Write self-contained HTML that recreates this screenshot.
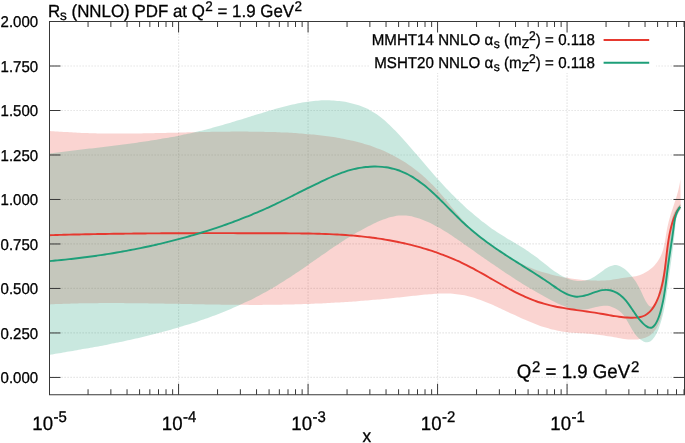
<!DOCTYPE html><html><head><meta charset="utf-8"><title>Rs PDF</title><style>
html,body{margin:0;padding:0;background:#fff}
#c{position:relative;width:685px;height:443px;overflow:hidden;background:#fff;font-family:"Liberation Sans",sans-serif;color:#000;will-change:transform}
.t{position:absolute;white-space:nowrap;line-height:1;text-rendering:geometricPrecision;-webkit-text-stroke:0.3px #000}
.sup,.sub{font-size:0.8em;position:relative;display:inline-block}
</style></head><body><div id="c">
<svg width="685" height="443" viewBox="0 0 685 443" style="position:absolute;left:0;top:0">
<rect width="685" height="443" fill="#fff"/>
<path d="M178.57 21.50 V394.75 M308.07 21.50 V394.75 M437.57 21.50 V394.75 M567.07 21.50 V394.75 M49.50 377.45 H684.50 M49.50 332.96 H684.50 M49.50 288.46 H684.50 M49.50 243.97 H684.50 M49.50 199.48 H684.50 M49.50 154.99 H684.50 M49.50 110.50 H684.50 M49.50 66.00 H684.50" stroke="#dddddd" stroke-width="1.2" stroke-dasharray="1.2 1.8" fill="none"/>
<path d="M49.50 130.90 C50.17 130.96 52.17 131.13 53.50 131.24 C54.83 131.35 56.16 131.45 57.50 131.55 C58.83 131.65 60.16 131.74 61.49 131.83 C62.83 131.93 64.16 132.01 65.49 132.10 C66.83 132.18 68.16 132.26 69.49 132.33 C70.82 132.41 72.16 132.48 73.49 132.54 C74.82 132.61 76.15 132.67 77.49 132.73 C78.82 132.79 80.15 132.85 81.48 132.90 C82.82 132.95 84.15 133.00 85.48 133.05 C86.82 133.10 88.15 133.14 89.48 133.18 C90.81 133.22 92.15 133.25 93.48 133.29 C94.81 133.32 96.14 133.35 97.48 133.38 C98.81 133.40 100.14 133.43 101.48 133.45 C102.81 133.47 104.14 133.49 105.47 133.50 C106.81 133.52 108.14 133.53 109.47 133.54 C110.80 133.56 112.14 133.56 113.47 133.57 C114.80 133.58 116.13 133.58 117.47 133.58 C118.80 133.58 120.13 133.58 121.47 133.58 C122.80 133.58 124.13 133.57 125.46 133.56 C126.80 133.56 128.13 133.55 129.46 133.54 C130.79 133.53 132.13 133.52 133.46 133.50 C134.79 133.49 136.13 133.47 137.46 133.46 C138.79 133.44 140.12 133.42 141.46 133.40 C142.79 133.38 144.12 133.36 145.45 133.34 C146.79 133.32 148.12 133.29 149.45 133.27 C150.79 133.24 152.12 133.22 153.45 133.19 C154.78 133.16 156.12 133.14 157.45 133.11 C158.78 133.08 160.12 133.05 161.45 133.02 C162.78 132.99 164.11 132.96 165.45 132.93 C166.78 132.90 168.11 132.87 169.44 132.83 C170.78 132.80 172.11 132.77 173.44 132.74 C174.78 132.71 176.11 132.67 177.44 132.64 C178.78 132.61 180.11 132.58 181.44 132.54 C182.77 132.51 184.11 132.48 185.44 132.44 C186.77 132.41 188.11 132.38 189.44 132.35 C190.77 132.32 192.10 132.29 193.44 132.25 C194.77 132.22 196.10 132.19 197.44 132.16 C198.77 132.13 200.10 132.10 201.44 132.07 C202.77 132.05 204.10 132.02 205.44 131.99 C206.77 131.96 208.10 131.94 209.43 131.91 C210.77 131.89 212.10 131.87 213.43 131.84 C214.77 131.82 216.10 131.80 217.43 131.78 C218.77 131.76 220.10 131.74 221.43 131.72 C222.77 131.71 224.10 131.69 225.43 131.68 C226.77 131.66 228.10 131.65 229.43 131.64 C230.77 131.63 232.10 131.62 233.43 131.61 C234.77 131.60 236.10 131.60 237.43 131.60 C238.77 131.59 240.10 131.59 241.43 131.59 C242.77 131.59 244.10 131.60 245.43 131.60 C246.77 131.61 248.10 131.62 249.43 131.63 C250.77 131.64 252.10 131.65 253.43 131.67 C254.77 131.68 256.10 131.70 257.43 131.72 C258.77 131.74 260.10 131.76 261.44 131.79 C262.77 131.82 264.10 131.85 265.44 131.88 C266.77 131.91 268.10 131.95 269.44 131.99 C270.77 132.02 272.11 132.07 273.44 132.11 C274.77 132.16 276.11 132.20 277.44 132.26 C278.77 132.31 280.11 132.36 281.44 132.42 C282.78 132.48 284.11 132.54 285.44 132.61 C286.78 132.68 288.11 132.75 289.45 132.82 C290.78 132.90 292.11 132.97 293.45 133.06 C294.78 133.14 296.12 133.22 297.45 133.31 C298.78 133.40 300.12 133.50 301.45 133.60 C302.79 133.70 304.12 133.80 305.45 133.91 C306.79 134.01 308.12 134.13 309.45 134.25 C310.79 134.36 312.12 134.49 313.45 134.62 C314.78 134.75 316.11 134.88 317.44 135.03 C318.77 135.17 320.10 135.32 321.43 135.47 C322.76 135.63 324.08 135.79 325.41 135.96 C326.73 136.13 328.05 136.31 329.37 136.50 C330.69 136.69 332.01 136.88 333.33 137.08 C334.64 137.29 335.96 137.50 337.27 137.72 C338.58 137.94 339.89 138.17 341.20 138.41 C342.51 138.65 343.81 138.90 345.11 139.17 C346.41 139.43 347.71 139.70 349.00 139.98 C350.30 140.26 351.59 140.55 352.88 140.86 C354.17 141.16 355.45 141.48 356.73 141.80 C358.01 142.13 359.29 142.47 360.56 142.82 C361.84 143.18 363.11 143.54 364.37 143.92 C365.63 144.29 366.90 144.68 368.15 145.09 C369.41 145.49 370.66 145.91 371.90 146.34 C373.15 146.77 374.39 147.22 375.63 147.68 C376.86 148.14 378.10 148.61 379.32 149.10 C380.55 149.59 381.77 150.10 382.98 150.62 C384.20 151.14 385.41 151.68 386.61 152.23 C387.81 152.78 389.01 153.35 390.20 153.94 C391.39 154.53 392.58 155.13 393.76 155.75 C394.94 156.37 396.11 157.01 397.27 157.66 C398.44 158.32 399.60 158.99 400.75 159.68 C401.90 160.37 403.04 161.08 404.18 161.80 C405.32 162.53 406.44 163.27 407.56 164.03 C408.68 164.78 409.79 165.55 410.90 166.34 C412.00 167.13 413.09 167.93 414.17 168.75 C415.26 169.56 416.33 170.39 417.39 171.24 C418.46 172.08 419.51 172.94 420.55 173.81 C421.59 174.68 422.62 175.56 423.64 176.46 C424.66 177.35 425.66 178.26 426.66 179.17 C427.65 180.09 428.63 181.02 429.60 181.96 C430.57 182.90 431.53 183.85 432.47 184.81 C433.41 185.77 434.34 186.74 435.25 187.71 C436.17 188.69 437.07 189.68 437.96 190.67 C438.85 191.66 439.72 192.66 440.59 193.67 C441.46 194.68 442.31 195.69 443.17 196.71 C444.02 197.72 444.86 198.74 445.70 199.76 C446.54 200.79 447.37 201.81 448.21 202.84 C449.04 203.86 449.87 204.89 450.70 205.92 C451.53 206.94 452.36 207.97 453.19 208.99 C454.03 210.02 454.86 211.04 455.70 212.06 C456.54 213.07 457.39 214.09 458.24 215.10 C459.10 216.10 459.95 217.11 460.83 218.10 C461.70 219.10 462.57 220.09 463.47 221.07 C464.36 222.05 465.26 223.02 466.18 223.98 C467.10 224.94 468.03 225.90 468.98 226.84 C469.92 227.78 470.88 228.71 471.85 229.63 C472.81 230.56 473.79 231.47 474.78 232.37 C475.77 233.27 476.78 234.16 477.79 235.04 C478.80 235.92 479.82 236.79 480.85 237.65 C481.88 238.51 482.92 239.36 483.97 240.20 C485.02 241.04 486.07 241.86 487.13 242.68 C488.20 243.49 489.27 244.30 490.34 245.09 C491.42 245.88 492.50 246.66 493.59 247.43 C494.68 248.20 495.78 248.95 496.87 249.70 C497.97 250.44 499.08 251.18 500.18 251.90 C501.29 252.62 502.40 253.33 503.52 254.02 C504.64 254.72 505.76 255.40 506.89 256.08 C508.02 256.75 509.16 257.41 510.30 258.05 C511.44 258.70 512.59 259.33 513.75 259.95 C514.91 260.57 516.07 261.17 517.24 261.77 C518.41 262.36 519.59 262.94 520.78 263.51 C521.97 264.07 523.16 264.62 524.37 265.16 C525.58 265.70 526.79 266.23 528.01 266.74 C529.24 267.25 530.47 267.75 531.71 268.23 C532.95 268.71 534.20 269.18 535.46 269.64 C536.72 270.09 537.98 270.53 539.25 270.96 C540.52 271.39 541.80 271.80 543.09 272.20 C544.37 272.60 545.66 272.98 546.96 273.36 C548.25 273.73 549.56 274.08 550.86 274.43 C552.17 274.77 553.48 275.10 554.80 275.42 C556.12 275.73 557.44 276.03 558.76 276.32 C560.09 276.61 561.41 276.88 562.75 277.14 C564.08 277.40 565.41 277.64 566.75 277.87 C568.09 278.11 569.43 278.32 570.77 278.52 C572.11 278.73 573.45 278.92 574.80 279.09 C576.14 279.27 577.49 279.43 578.83 279.57 C580.18 279.72 581.53 279.85 582.87 279.97 C584.22 280.09 585.57 280.19 586.91 280.28 C588.26 280.37 589.60 280.44 590.95 280.50 C592.29 280.56 593.63 280.60 594.97 280.62 C596.31 280.64 597.65 280.64 598.99 280.63 C600.32 280.61 601.65 280.57 602.98 280.51 C604.31 280.46 605.64 280.38 606.96 280.27 C608.29 280.17 609.60 280.04 610.92 279.89 C612.23 279.74 613.54 279.56 614.85 279.36 C616.15 279.17 617.45 278.95 618.74 278.75 C620.04 278.54 621.32 278.32 622.60 278.12 C623.89 277.92 625.16 277.74 626.43 277.57 C627.69 277.39 628.96 277.25 630.21 277.06 C631.46 276.88 632.70 276.71 633.94 276.48 C635.18 276.24 636.41 275.99 637.62 275.66 C638.84 275.33 640.05 274.96 641.25 274.49 C642.45 274.02 643.65 273.47 644.81 272.84 C645.98 272.22 647.14 271.51 648.25 270.74 C649.36 269.97 650.45 269.13 651.48 268.24 C652.51 267.35 653.52 266.39 654.45 265.39 C655.38 264.39 656.27 263.33 657.07 262.24 C657.88 261.15 658.62 260.02 659.29 258.85 C659.96 257.69 660.54 256.49 661.08 255.27 C661.61 254.05 662.07 252.79 662.49 251.52 C662.92 250.25 663.28 248.96 663.61 247.65 C663.95 246.35 664.24 245.02 664.51 243.69 C664.78 242.36 665.02 241.01 665.26 239.67 C665.49 238.32 665.70 236.97 665.92 235.62 C666.14 234.28 666.35 232.93 666.58 231.59 C666.81 230.26 667.05 228.92 667.31 227.61 C667.57 226.29 667.86 224.99 668.17 223.70 C668.48 222.41 668.81 221.14 669.16 219.87 C669.50 218.60 669.87 217.35 670.25 216.10 C670.62 214.85 671.01 213.60 671.41 212.37 C671.80 211.13 672.21 209.89 672.62 208.66 C673.02 207.43 673.44 206.20 673.84 204.97 C674.25 203.74 674.66 202.51 675.06 201.27 C675.46 200.04 675.85 198.80 676.23 197.56 C676.61 196.31 676.99 195.06 677.34 193.80 C677.69 192.54 678.03 191.28 678.35 190.00 C678.67 188.71 678.96 187.43 679.23 186.12 C679.50 184.81 679.77 183.33 679.97 182.16 C680.16 180.99 680.33 179.61 680.40 179.10 L680.70 209.00 C680.50 209.32 680.02 210.02 679.51 210.93 C679.00 211.85 678.20 213.28 677.63 214.47 C677.06 215.66 676.54 216.86 676.07 218.07 C675.60 219.28 675.17 220.50 674.79 221.73 C674.40 222.96 674.06 224.20 673.75 225.45 C673.44 226.70 673.16 227.95 672.92 229.22 C672.67 230.48 672.45 231.76 672.25 233.04 C672.06 234.32 671.89 235.60 671.73 236.90 C671.57 238.19 671.43 239.49 671.30 240.80 C671.17 242.10 671.05 243.41 670.93 244.73 C670.82 246.05 670.71 247.37 670.60 248.70 C670.48 250.02 670.37 251.35 670.25 252.69 C670.12 254.02 670.00 255.36 669.85 256.70 C669.71 258.04 669.55 259.39 669.38 260.73 C669.20 262.08 669.00 263.43 668.79 264.78 C668.59 266.13 668.36 267.48 668.13 268.83 C667.90 270.18 667.65 271.54 667.41 272.89 C667.16 274.24 666.91 275.59 666.66 276.95 C666.42 278.30 666.17 279.65 665.93 281.00 C665.70 282.35 665.46 283.70 665.25 285.05 C665.03 286.39 664.82 287.74 664.63 289.08 C664.44 290.42 664.26 291.76 664.10 293.09 C663.93 294.43 663.78 295.76 663.63 297.09 C663.49 298.42 663.35 299.74 663.22 301.06 C663.10 302.38 662.99 303.69 662.86 305.00 C662.73 306.30 662.62 307.60 662.47 308.90 C662.31 310.19 662.16 311.48 661.95 312.77 C661.74 314.05 661.50 315.32 661.21 316.59 C660.91 317.85 660.57 319.11 660.15 320.36 C659.73 321.61 659.25 322.86 658.68 324.09 C658.12 325.31 657.47 326.55 656.75 327.72 C656.02 328.88 655.22 330.04 654.36 331.08 C653.51 332.13 652.58 333.13 651.60 333.99 C650.62 334.85 649.59 335.61 648.51 336.25 C647.44 336.89 646.31 337.40 645.15 337.83 C644.00 338.27 642.79 338.58 641.58 338.84 C640.36 339.10 639.11 339.26 637.85 339.38 C636.59 339.50 635.31 339.54 634.02 339.56 C632.74 339.57 631.44 339.53 630.14 339.47 C628.84 339.40 627.53 339.29 626.21 339.16 C624.90 339.02 623.57 338.85 622.24 338.67 C620.92 338.49 619.58 338.27 618.24 338.05 C616.90 337.84 615.56 337.60 614.21 337.36 C612.86 337.12 611.51 336.87 610.15 336.62 C608.80 336.38 607.44 336.13 606.08 335.90 C604.72 335.67 603.35 335.44 601.99 335.23 C600.63 335.03 599.26 334.83 597.90 334.66 C596.53 334.49 595.17 334.35 593.80 334.21 C592.44 334.08 591.07 333.97 589.71 333.86 C588.35 333.75 586.99 333.66 585.63 333.57 C584.27 333.47 582.92 333.39 581.57 333.31 C580.22 333.22 578.87 333.14 577.52 333.05 C576.18 332.95 574.84 332.86 573.51 332.75 C572.17 332.65 570.84 332.54 569.52 332.40 C568.20 332.27 566.88 332.13 565.58 331.96 C564.27 331.79 562.97 331.60 561.67 331.39 C560.38 331.18 559.09 330.94 557.82 330.69 C556.54 330.43 555.26 330.15 554.00 329.85 C552.73 329.56 551.47 329.24 550.22 328.90 C548.96 328.56 547.72 328.20 546.47 327.83 C545.23 327.46 543.99 327.06 542.75 326.66 C541.52 326.25 540.28 325.83 539.06 325.39 C537.83 324.95 536.60 324.50 535.38 324.04 C534.16 323.57 532.94 323.09 531.72 322.61 C530.50 322.12 529.28 321.62 528.07 321.11 C526.85 320.60 525.64 320.07 524.43 319.55 C523.21 319.02 522.00 318.48 520.78 317.93 C519.57 317.39 518.36 316.84 517.14 316.28 C515.92 315.72 514.71 315.16 513.49 314.59 C512.27 314.02 511.05 313.45 509.83 312.88 C508.61 312.30 507.38 311.73 506.15 311.15 C504.93 310.57 503.69 309.99 502.46 309.41 C501.22 308.83 499.98 308.25 498.74 307.68 C497.50 307.11 496.25 306.53 495.00 305.97 C493.75 305.41 492.50 304.85 491.25 304.30 C489.99 303.76 488.73 303.22 487.47 302.69 C486.20 302.17 484.94 301.66 483.67 301.16 C482.40 300.67 481.13 300.19 479.86 299.73 C478.58 299.28 477.31 298.83 476.03 298.42 C474.75 298.00 473.46 297.60 472.18 297.24 C470.90 296.87 469.61 296.52 468.32 296.21 C467.03 295.89 465.74 295.61 464.44 295.35 C463.15 295.10 461.85 294.87 460.56 294.68 C459.26 294.48 457.96 294.31 456.65 294.17 C455.35 294.03 454.05 293.92 452.74 293.82 C451.44 293.73 450.13 293.67 448.82 293.62 C447.51 293.57 446.20 293.55 444.89 293.55 C443.57 293.54 442.26 293.55 440.95 293.58 C439.63 293.61 438.31 293.66 437.00 293.72 C435.68 293.78 434.36 293.86 433.04 293.95 C431.72 294.03 430.40 294.14 429.08 294.24 C427.76 294.35 426.44 294.47 425.11 294.60 C423.79 294.72 422.47 294.86 421.14 295.00 C419.82 295.13 418.49 295.28 417.17 295.42 C415.84 295.57 414.52 295.72 413.19 295.86 C411.86 296.01 410.54 296.16 409.21 296.31 C407.88 296.45 406.56 296.60 405.23 296.74 C403.90 296.88 402.58 297.03 401.25 297.17 C399.92 297.31 398.60 297.44 397.27 297.58 C395.94 297.72 394.61 297.85 393.28 297.99 C391.96 298.12 390.63 298.25 389.30 298.38 C387.97 298.51 386.64 298.64 385.32 298.77 C383.99 298.89 382.66 299.02 381.33 299.14 C380.00 299.26 378.67 299.38 377.34 299.50 C376.02 299.62 374.69 299.74 373.36 299.86 C372.03 299.97 370.70 300.09 369.37 300.20 C368.04 300.31 366.71 300.42 365.38 300.53 C364.05 300.64 362.72 300.75 361.39 300.85 C360.06 300.96 358.73 301.06 357.40 301.16 C356.07 301.26 354.74 301.36 353.41 301.46 C352.08 301.56 350.75 301.65 349.42 301.74 C348.09 301.84 346.76 301.93 345.43 302.02 C344.10 302.11 342.76 302.20 341.43 302.28 C340.10 302.37 338.77 302.45 337.44 302.53 C336.11 302.61 334.78 302.69 333.45 302.77 C332.11 302.85 330.78 302.92 329.45 303.00 C328.12 303.07 326.79 303.14 325.45 303.21 C324.12 303.28 322.79 303.34 321.46 303.41 C320.13 303.47 318.79 303.54 317.46 303.60 C316.13 303.66 314.80 303.72 313.46 303.77 C312.13 303.83 310.80 303.88 309.47 303.93 C308.13 303.98 306.80 304.03 305.47 304.08 C304.14 304.13 302.80 304.17 301.47 304.22 C300.14 304.26 298.80 304.30 297.47 304.34 C296.14 304.37 294.80 304.41 293.47 304.44 C292.14 304.48 290.81 304.51 289.47 304.54 C288.14 304.57 286.80 304.60 285.47 304.62 C284.14 304.65 282.80 304.67 281.47 304.69 C280.14 304.71 278.80 304.73 277.47 304.75 C276.14 304.77 274.80 304.78 273.47 304.80 C272.13 304.81 270.80 304.82 269.47 304.84 C268.13 304.85 266.80 304.86 265.46 304.86 C264.13 304.87 262.80 304.88 261.46 304.88 C260.13 304.88 258.79 304.89 257.46 304.89 C256.13 304.89 254.79 304.89 253.46 304.89 C252.12 304.89 250.79 304.88 249.45 304.88 C248.12 304.88 246.79 304.87 245.45 304.86 C244.12 304.86 242.78 304.85 241.45 304.84 C240.11 304.83 238.78 304.82 237.45 304.81 C236.11 304.80 234.78 304.79 233.44 304.78 C232.11 304.76 230.77 304.75 229.44 304.73 C228.10 304.72 226.77 304.70 225.43 304.69 C224.10 304.67 222.77 304.65 221.43 304.63 C220.10 304.62 218.76 304.60 217.43 304.58 C216.09 304.56 214.76 304.54 213.42 304.52 C212.09 304.50 210.75 304.47 209.42 304.45 C208.08 304.43 206.75 304.41 205.42 304.38 C204.08 304.36 202.75 304.34 201.41 304.31 C200.08 304.29 198.74 304.27 197.41 304.24 C196.07 304.22 194.74 304.19 193.40 304.17 C192.07 304.14 190.74 304.12 189.40 304.09 C188.07 304.07 186.73 304.04 185.40 304.02 C184.06 303.99 182.73 303.97 181.39 303.94 C180.06 303.92 178.73 303.89 177.39 303.87 C176.06 303.84 174.72 303.82 173.39 303.79 C172.05 303.77 170.72 303.74 169.39 303.72 C168.05 303.70 166.72 303.67 165.38 303.65 C164.05 303.63 162.72 303.60 161.38 303.58 C160.05 303.56 158.71 303.53 157.38 303.51 C156.05 303.49 154.71 303.47 153.38 303.45 C152.04 303.43 150.71 303.41 149.38 303.39 C148.04 303.37 146.71 303.35 145.38 303.33 C144.04 303.31 142.71 303.30 141.37 303.28 C140.04 303.26 138.71 303.25 137.37 303.23 C136.04 303.22 134.71 303.20 133.37 303.19 C132.04 303.18 130.71 303.17 129.38 303.16 C128.04 303.14 126.71 303.13 125.38 303.13 C124.04 303.12 122.71 303.11 121.38 303.10 C120.04 303.10 118.71 303.09 117.38 303.09 C116.05 303.08 114.71 303.08 113.38 303.08 C112.05 303.08 110.72 303.08 109.38 303.08 C108.05 303.08 106.72 303.09 105.39 303.09 C104.06 303.10 102.72 303.10 101.39 303.11 C100.06 303.12 98.73 303.13 97.40 303.14 C96.06 303.15 94.73 303.16 93.40 303.18 C92.07 303.19 90.74 303.21 89.41 303.23 C88.07 303.24 86.74 303.26 85.41 303.29 C84.08 303.31 82.75 303.33 81.42 303.36 C80.09 303.38 78.76 303.41 77.43 303.44 C76.10 303.47 74.77 303.50 73.44 303.54 C72.10 303.57 70.77 303.61 69.44 303.65 C68.11 303.68 66.78 303.72 65.45 303.77 C64.12 303.81 62.79 303.86 61.46 303.90 C60.13 303.95 58.80 304.00 57.48 304.05 C56.15 304.11 54.82 304.16 53.49 304.22 C52.16 304.28 50.16 304.37 49.50 304.40 Z" fill="#e6392f" fill-opacity="0.22"/>
<path d="M49.50 153.50 C50.17 153.41 52.19 153.15 53.54 152.98 C54.88 152.80 56.22 152.63 57.57 152.47 C58.91 152.30 60.25 152.13 61.59 151.96 C62.93 151.80 64.27 151.63 65.61 151.47 C66.95 151.31 68.28 151.14 69.62 150.98 C70.96 150.82 72.29 150.66 73.63 150.50 C74.96 150.34 76.29 150.18 77.63 150.03 C78.96 149.87 80.29 149.71 81.62 149.55 C82.95 149.40 84.28 149.24 85.61 149.08 C86.94 148.93 88.27 148.77 89.60 148.62 C90.93 148.46 92.25 148.30 93.58 148.15 C94.91 147.99 96.23 147.83 97.55 147.68 C98.88 147.52 100.20 147.36 101.52 147.21 C102.85 147.05 104.17 146.89 105.49 146.73 C106.81 146.57 108.13 146.41 109.45 146.25 C110.77 146.09 112.09 145.93 113.41 145.76 C114.73 145.60 116.04 145.43 117.36 145.27 C118.68 145.10 119.99 144.93 121.31 144.77 C122.62 144.60 123.94 144.43 125.25 144.25 C126.57 144.08 127.88 143.91 129.19 143.73 C130.50 143.55 131.82 143.38 133.13 143.20 C134.44 143.02 135.75 142.83 137.06 142.65 C138.37 142.46 139.68 142.28 140.99 142.09 C142.29 141.90 143.60 141.70 144.91 141.51 C146.22 141.31 147.52 141.11 148.83 140.91 C150.14 140.71 151.44 140.51 152.75 140.30 C154.05 140.09 155.36 139.88 156.66 139.67 C157.97 139.45 159.27 139.23 160.57 139.01 C161.87 138.79 163.18 138.57 164.48 138.34 C165.78 138.11 167.08 137.88 168.38 137.64 C169.68 137.40 170.98 137.16 172.28 136.92 C173.58 136.67 174.88 136.43 176.18 136.17 C177.48 135.92 178.78 135.66 180.08 135.40 C181.38 135.14 182.67 134.87 183.97 134.60 C185.27 134.33 186.57 134.05 187.86 133.77 C189.16 133.49 190.45 133.20 191.75 132.91 C193.05 132.62 194.34 132.32 195.64 132.02 C196.93 131.71 198.23 131.41 199.52 131.09 C200.81 130.78 202.11 130.46 203.40 130.14 C204.70 129.81 205.99 129.48 207.28 129.15 C208.57 128.81 209.87 128.47 211.16 128.13 C212.45 127.79 213.74 127.44 215.04 127.08 C216.33 126.73 217.62 126.37 218.91 126.01 C220.20 125.65 221.49 125.28 222.78 124.92 C224.07 124.55 225.36 124.17 226.65 123.80 C227.94 123.42 229.23 123.04 230.52 122.66 C231.81 122.28 233.10 121.90 234.39 121.51 C235.68 121.12 236.97 120.73 238.26 120.34 C239.55 119.95 240.84 119.55 242.13 119.16 C243.42 118.76 244.70 118.36 245.99 117.96 C247.28 117.57 248.57 117.16 249.86 116.76 C251.15 116.36 252.43 115.96 253.72 115.55 C255.01 115.15 256.30 114.74 257.59 114.34 C258.87 113.94 260.16 113.54 261.45 113.14 C262.74 112.74 264.03 112.34 265.31 111.95 C266.60 111.55 267.89 111.16 269.18 110.77 C270.47 110.39 271.76 110.01 273.04 109.63 C274.33 109.25 275.62 108.88 276.91 108.52 C278.20 108.16 279.49 107.80 280.78 107.45 C282.07 107.10 283.36 106.76 284.65 106.43 C285.94 106.10 287.23 105.77 288.53 105.46 C289.82 105.15 291.11 104.85 292.40 104.56 C293.70 104.27 294.99 103.99 296.28 103.72 C297.58 103.45 298.87 103.20 300.17 102.96 C301.46 102.72 302.76 102.49 304.06 102.28 C305.35 102.07 306.65 101.87 307.95 101.69 C309.25 101.51 310.54 101.35 311.84 101.20 C313.14 101.05 314.44 100.92 315.75 100.81 C317.05 100.70 318.35 100.61 319.65 100.53 C320.96 100.46 322.26 100.40 323.57 100.37 C324.87 100.34 326.18 100.33 327.49 100.34 C328.79 100.35 330.10 100.38 331.41 100.43 C332.72 100.49 334.03 100.56 335.35 100.67 C336.66 100.77 337.97 100.89 339.29 101.05 C340.60 101.20 341.92 101.37 343.23 101.58 C344.54 101.78 345.85 102.01 347.16 102.27 C348.47 102.53 349.77 102.81 351.07 103.13 C352.37 103.44 353.66 103.78 354.95 104.16 C356.23 104.53 357.51 104.93 358.77 105.37 C360.04 105.80 361.29 106.27 362.54 106.77 C363.78 107.26 365.01 107.79 366.23 108.36 C367.44 108.92 368.64 109.52 369.83 110.15 C371.01 110.78 372.18 111.45 373.33 112.15 C374.48 112.86 375.61 113.60 376.73 114.36 C377.84 115.13 378.94 115.93 380.02 116.75 C381.10 117.58 382.17 118.43 383.22 119.30 C384.27 120.17 385.30 121.07 386.33 121.98 C387.35 122.89 388.36 123.83 389.35 124.77 C390.35 125.71 391.33 126.67 392.30 127.64 C393.27 128.60 394.23 129.58 395.18 130.56 C396.13 131.54 397.06 132.53 397.99 133.52 C398.92 134.50 399.84 135.49 400.75 136.48 C401.66 137.47 402.57 138.46 403.46 139.45 C404.36 140.44 405.24 141.44 406.13 142.43 C407.01 143.42 407.88 144.42 408.75 145.41 C409.62 146.40 410.49 147.40 411.35 148.39 C412.21 149.39 413.07 150.38 413.92 151.38 C414.78 152.37 415.63 153.37 416.48 154.37 C417.33 155.36 418.17 156.36 419.02 157.35 C419.87 158.35 420.71 159.34 421.56 160.34 C422.40 161.33 423.25 162.32 424.10 163.32 C424.94 164.31 425.79 165.30 426.64 166.30 C427.50 167.29 428.35 168.28 429.20 169.27 C430.06 170.26 430.92 171.25 431.78 172.24 C432.64 173.23 433.50 174.21 434.37 175.20 C435.24 176.19 436.11 177.17 436.99 178.15 C437.86 179.13 438.74 180.12 439.63 181.09 C440.51 182.07 441.40 183.05 442.30 184.03 C443.20 185.00 444.10 185.98 445.01 186.95 C445.92 187.92 446.83 188.89 447.75 189.85 C448.68 190.82 449.60 191.78 450.54 192.74 C451.48 193.71 452.42 194.66 453.37 195.62 C454.33 196.58 455.29 197.53 456.25 198.48 C457.22 199.43 458.19 200.37 459.18 201.31 C460.16 202.25 461.14 203.19 462.14 204.12 C463.13 205.05 464.14 205.97 465.14 206.89 C466.15 207.81 467.16 208.72 468.18 209.63 C469.20 210.53 470.23 211.43 471.26 212.33 C472.29 213.22 473.32 214.10 474.36 214.98 C475.41 215.85 476.45 216.72 477.50 217.58 C478.55 218.44 479.61 219.29 480.66 220.13 C481.72 220.97 482.79 221.80 483.85 222.62 C484.92 223.44 485.99 224.25 487.06 225.05 C488.14 225.85 489.22 226.64 490.29 227.41 C491.37 228.19 492.46 228.95 493.54 229.70 C494.63 230.45 495.72 231.19 496.81 231.92 C497.90 232.64 498.99 233.35 500.08 234.05 C501.18 234.75 502.27 235.44 503.37 236.12 C504.47 236.80 505.57 237.46 506.67 238.13 C507.77 238.80 508.87 239.46 509.97 240.11 C511.07 240.77 512.17 241.43 513.27 242.08 C514.38 242.74 515.48 243.40 516.58 244.06 C517.68 244.72 518.78 245.39 519.88 246.06 C520.99 246.74 522.09 247.42 523.19 248.11 C524.28 248.80 525.38 249.50 526.48 250.22 C527.58 250.93 528.67 251.66 529.77 252.41 C530.86 253.16 531.95 253.92 533.04 254.70 C534.13 255.49 535.22 256.29 536.30 257.11 C537.39 257.94 538.47 258.79 539.56 259.64 C540.64 260.49 541.72 261.37 542.81 262.24 C543.89 263.11 544.98 263.99 546.07 264.85 C547.16 265.72 548.25 266.59 549.35 267.43 C550.45 268.28 551.55 269.12 552.66 269.94 C553.77 270.75 554.89 271.55 556.02 272.31 C557.15 273.06 558.28 273.80 559.43 274.49 C560.58 275.18 561.73 275.84 562.90 276.45 C564.07 277.05 565.26 277.62 566.45 278.12 C567.65 278.62 568.86 279.08 570.09 279.46 C571.31 279.85 572.55 280.17 573.80 280.42 C575.04 280.67 576.30 280.85 577.56 280.95 C578.81 281.04 580.08 281.07 581.34 280.99 C582.60 280.92 583.86 280.77 585.11 280.51 C586.37 280.25 587.62 279.90 588.86 279.44 C590.10 278.98 591.33 278.40 592.54 277.74 C593.76 277.08 594.97 276.29 596.16 275.50 C597.36 274.70 598.54 273.81 599.72 272.96 C600.90 272.11 602.08 271.22 603.24 270.40 C604.41 269.59 605.57 268.77 606.73 268.08 C607.89 267.40 609.04 266.75 610.20 266.27 C611.35 265.80 612.51 265.41 613.66 265.24 C614.82 265.07 615.98 265.05 617.14 265.25 C618.29 265.44 619.46 265.87 620.60 266.42 C621.75 266.96 622.89 267.71 623.99 268.52 C625.10 269.33 626.19 270.29 627.22 271.27 C628.25 272.25 629.26 273.34 630.20 274.40 C631.14 275.46 632.03 276.56 632.86 277.63 C633.68 278.70 634.44 279.74 635.16 280.80 C635.88 281.86 636.54 282.90 637.19 283.99 C637.84 285.07 638.44 286.15 639.05 287.29 C639.65 288.42 640.23 289.58 640.82 290.80 C641.41 292.03 641.99 293.32 642.60 294.63 C643.21 295.95 643.83 297.36 644.49 298.68 C645.15 299.99 645.83 301.36 646.58 302.52 C647.32 303.69 648.10 304.93 648.96 305.65 C649.82 306.37 650.82 306.91 651.73 306.86 C652.64 306.81 653.69 306.17 654.45 305.36 C655.21 304.54 655.78 303.23 656.30 301.97 C656.83 300.72 657.20 299.18 657.59 297.81 C657.98 296.45 658.32 295.09 658.66 293.78 C659.00 292.46 659.31 291.21 659.61 289.94 C659.92 288.67 660.21 287.43 660.49 286.16 C660.78 284.89 661.06 283.61 661.34 282.32 C661.61 281.03 661.88 279.73 662.14 278.43 C662.40 277.12 662.66 275.81 662.91 274.49 C663.17 273.17 663.41 271.84 663.66 270.51 C663.90 269.18 664.14 267.84 664.37 266.50 C664.61 265.16 664.84 263.82 665.06 262.47 C665.29 261.12 665.51 259.77 665.73 258.42 C665.95 257.08 666.17 255.72 666.38 254.38 C666.60 253.03 666.81 251.68 667.02 250.33 C667.22 248.99 667.43 247.64 667.63 246.30 C667.84 244.96 668.04 243.62 668.24 242.29 C668.44 240.96 668.64 239.63 668.84 238.31 C669.04 236.99 669.23 235.68 669.43 234.37 C669.63 233.07 669.82 231.77 670.02 230.48 C670.22 229.20 670.41 227.92 670.61 226.65 C670.81 225.38 670.99 224.13 671.22 222.88 C671.45 221.64 671.68 220.41 671.98 219.19 C672.28 217.97 672.60 216.77 673.02 215.58 C673.43 214.39 673.89 213.21 674.47 212.06 C675.04 210.90 675.69 209.76 676.47 208.64 C677.25 207.52 678.49 206.11 679.16 205.33 C679.83 204.56 680.28 204.22 680.50 204.00 L680.70 209.00 C680.48 209.31 679.93 209.92 679.40 210.83 C678.87 211.75 678.03 213.26 677.53 214.48 C677.03 215.71 676.69 216.95 676.39 218.20 C676.09 219.45 675.91 220.71 675.74 221.98 C675.57 223.24 675.48 224.52 675.35 225.81 C675.23 227.09 675.13 228.38 675.01 229.68 C674.88 230.98 674.75 232.29 674.62 233.60 C674.48 234.91 674.34 236.23 674.20 237.55 C674.05 238.87 673.90 240.20 673.74 241.53 C673.59 242.86 673.42 244.20 673.26 245.54 C673.09 246.87 672.92 248.22 672.75 249.56 C672.58 250.90 672.40 252.25 672.23 253.59 C672.05 254.94 671.87 256.29 671.68 257.63 C671.50 258.98 671.32 260.33 671.13 261.67 C670.95 263.02 670.76 264.36 670.57 265.70 C670.38 267.05 670.19 268.39 670.01 269.73 C669.82 271.06 669.63 272.40 669.44 273.73 C669.26 275.06 669.07 276.39 668.89 277.71 C668.70 279.03 668.52 280.35 668.34 281.66 C668.16 282.97 667.98 284.27 667.80 285.57 C667.63 286.87 667.45 288.16 667.28 289.45 C667.10 290.74 666.93 292.02 666.75 293.31 C666.57 294.59 666.38 295.87 666.19 297.15 C666.00 298.43 665.80 299.71 665.59 300.99 C665.38 302.28 665.17 303.56 664.93 304.86 C664.70 306.15 664.45 307.44 664.19 308.74 C663.92 310.05 663.65 311.36 663.35 312.67 C663.04 313.99 662.73 315.32 662.38 316.66 C662.04 318.00 661.68 319.35 661.29 320.71 C660.89 322.07 660.48 323.46 660.03 324.82 C659.58 326.19 659.10 327.56 658.58 328.88 C658.06 330.20 657.51 331.51 656.91 332.73 C656.30 333.96 655.66 335.15 654.97 336.24 C654.27 337.32 653.53 338.37 652.72 339.24 C651.92 340.10 651.06 340.91 650.14 341.43 C649.22 341.94 648.22 342.28 647.19 342.33 C646.15 342.38 645.02 342.12 643.94 341.71 C642.86 341.29 641.75 340.61 640.69 339.83 C639.64 339.05 638.59 338.06 637.60 337.04 C636.62 336.01 635.66 334.83 634.79 333.66 C633.91 332.49 633.11 331.25 632.34 330.03 C631.58 328.81 630.91 327.56 630.22 326.34 C629.54 325.11 628.91 323.88 628.25 322.68 C627.58 321.48 626.94 320.29 626.24 319.15 C625.53 318.01 624.82 316.89 624.02 315.83 C623.22 314.78 622.37 313.77 621.42 312.84 C620.48 311.90 619.45 311.02 618.37 310.24 C617.29 309.46 616.13 308.75 614.96 308.15 C613.78 307.55 612.54 307.03 611.30 306.64 C610.05 306.26 608.77 305.97 607.50 305.82 C606.23 305.67 604.95 305.66 603.67 305.72 C602.39 305.79 601.11 305.98 599.83 306.19 C598.54 306.41 597.25 306.72 595.97 307.02 C594.68 307.32 593.39 307.68 592.10 307.99 C590.81 308.31 589.52 308.65 588.23 308.91 C586.94 309.17 585.64 309.42 584.36 309.56 C583.07 309.71 581.78 309.78 580.49 309.78 C579.20 309.77 577.92 309.68 576.63 309.53 C575.35 309.39 574.07 309.16 572.79 308.89 C571.51 308.62 570.23 308.28 568.96 307.90 C567.69 307.52 566.42 307.09 565.16 306.62 C563.90 306.16 562.64 305.65 561.39 305.11 C560.13 304.58 558.88 304.00 557.64 303.42 C556.40 302.83 555.16 302.22 553.93 301.60 C552.70 300.98 551.48 300.34 550.27 299.71 C549.05 299.07 547.84 298.43 546.64 297.78 C545.44 297.14 544.24 296.49 543.06 295.84 C541.87 295.18 540.69 294.52 539.51 293.86 C538.33 293.20 537.16 292.53 536.00 291.86 C534.84 291.19 533.68 290.52 532.52 289.84 C531.37 289.16 530.22 288.48 529.08 287.80 C527.94 287.11 526.80 286.42 525.66 285.73 C524.53 285.04 523.40 284.34 522.28 283.64 C521.15 282.94 520.03 282.24 518.91 281.53 C517.79 280.83 516.68 280.12 515.57 279.40 C514.46 278.69 513.35 277.98 512.25 277.26 C511.14 276.54 510.04 275.82 508.94 275.09 C507.84 274.37 506.75 273.64 505.65 272.91 C504.56 272.18 503.46 271.45 502.37 270.71 C501.28 269.98 500.19 269.24 499.11 268.50 C498.02 267.76 496.93 267.02 495.85 266.27 C494.76 265.53 493.68 264.78 492.59 264.03 C491.51 263.28 490.42 262.53 489.34 261.78 C488.26 261.02 487.17 260.27 486.09 259.51 C485.01 258.75 483.92 257.99 482.84 257.23 C481.75 256.47 480.67 255.71 479.58 254.95 C478.49 254.18 477.41 253.41 476.32 252.65 C475.23 251.88 474.14 251.11 473.05 250.34 C471.95 249.57 470.86 248.80 469.76 248.03 C468.67 247.25 467.57 246.48 466.47 245.70 C465.37 244.93 464.26 244.15 463.16 243.38 C462.05 242.60 460.94 241.82 459.83 241.05 C458.71 240.28 457.60 239.51 456.47 238.74 C455.35 237.98 454.23 237.22 453.10 236.46 C451.97 235.71 450.84 234.96 449.70 234.22 C448.56 233.49 447.41 232.76 446.26 232.04 C445.12 231.32 443.96 230.61 442.80 229.91 C441.64 229.22 440.48 228.53 439.30 227.87 C438.13 227.20 436.95 226.55 435.77 225.91 C434.58 225.27 433.39 224.65 432.19 224.05 C430.99 223.45 429.79 222.87 428.57 222.31 C427.36 221.75 426.14 221.20 424.91 220.69 C423.68 220.18 422.44 219.68 421.20 219.23 C419.96 218.77 418.71 218.34 417.46 217.95 C416.21 217.56 414.95 217.20 413.69 216.89 C412.43 216.58 411.16 216.31 409.89 216.10 C408.62 215.88 407.35 215.71 406.08 215.60 C404.80 215.48 403.53 215.42 402.25 215.42 C400.98 215.43 399.70 215.49 398.42 215.62 C397.15 215.74 395.87 215.93 394.59 216.16 C393.32 216.40 392.04 216.69 390.77 217.02 C389.50 217.36 388.23 217.74 386.97 218.15 C385.70 218.57 384.44 219.03 383.18 219.51 C381.92 219.99 380.67 220.51 379.42 221.04 C378.17 221.58 376.93 222.14 375.69 222.72 C374.46 223.29 373.23 223.88 372.00 224.48 C370.78 225.08 369.57 225.69 368.36 226.31 C367.15 226.93 365.95 227.55 364.75 228.19 C363.56 228.83 362.37 229.48 361.18 230.13 C360.00 230.79 358.82 231.45 357.65 232.12 C356.48 232.79 355.31 233.47 354.15 234.15 C352.99 234.84 351.83 235.53 350.68 236.23 C349.53 236.93 348.38 237.64 347.24 238.35 C346.10 239.06 344.96 239.77 343.82 240.50 C342.69 241.22 341.56 241.94 340.43 242.68 C339.31 243.41 338.18 244.14 337.06 244.88 C335.94 245.62 334.83 246.37 333.71 247.11 C332.60 247.86 331.49 248.61 330.38 249.36 C329.27 250.12 328.16 250.87 327.06 251.63 C325.96 252.39 324.85 253.15 323.75 253.91 C322.65 254.67 321.55 255.44 320.46 256.20 C319.36 256.96 318.26 257.73 317.17 258.50 C316.07 259.26 314.97 260.03 313.88 260.79 C312.79 261.56 311.69 262.32 310.60 263.09 C309.50 263.85 308.41 264.62 307.32 265.38 C306.22 266.14 305.13 266.90 304.03 267.66 C302.94 268.42 301.84 269.18 300.74 269.93 C299.65 270.68 298.55 271.44 297.45 272.18 C296.35 272.93 295.25 273.68 294.14 274.42 C293.04 275.16 291.94 275.90 290.83 276.63 C289.72 277.37 288.61 278.09 287.50 278.82 C286.39 279.54 285.27 280.26 284.15 280.97 C283.04 281.69 281.92 282.40 280.79 283.10 C279.67 283.80 278.54 284.49 277.41 285.18 C276.28 285.87 275.14 286.55 274.00 287.23 C272.86 287.90 271.72 288.57 270.57 289.23 C269.42 289.89 268.27 290.55 267.12 291.19 C265.96 291.84 264.80 292.48 263.64 293.11 C262.48 293.75 261.31 294.37 260.14 294.99 C258.97 295.61 257.79 296.23 256.62 296.83 C255.44 297.44 254.26 298.04 253.07 298.63 C251.89 299.23 250.70 299.82 249.51 300.40 C248.32 300.98 247.12 301.55 245.93 302.12 C244.73 302.69 243.53 303.25 242.32 303.81 C241.12 304.37 239.91 304.92 238.70 305.46 C237.49 306.00 236.28 306.54 235.06 307.07 C233.84 307.61 232.62 308.13 231.40 308.65 C230.18 309.18 228.95 309.69 227.72 310.20 C226.50 310.71 225.26 311.21 224.03 311.71 C222.80 312.21 221.56 312.70 220.32 313.19 C219.08 313.68 217.84 314.16 216.60 314.63 C215.35 315.11 214.11 315.58 212.86 316.05 C211.61 316.51 210.36 316.97 209.10 317.43 C207.85 317.88 206.59 318.33 205.33 318.78 C204.07 319.22 202.81 319.66 201.55 320.10 C200.29 320.53 199.02 320.96 197.75 321.39 C196.49 321.82 195.22 322.24 193.95 322.65 C192.68 323.07 191.40 323.48 190.13 323.89 C188.85 324.29 187.58 324.69 186.30 325.09 C185.02 325.49 183.74 325.88 182.46 326.27 C181.17 326.66 179.89 327.04 178.60 327.42 C177.32 327.80 176.03 328.18 174.74 328.55 C173.45 328.92 172.16 329.29 170.87 329.65 C169.58 330.02 168.29 330.38 167.00 330.73 C165.70 331.09 164.41 331.44 163.11 331.79 C161.81 332.13 160.51 332.48 159.22 332.82 C157.92 333.16 156.62 333.49 155.32 333.83 C154.01 334.16 152.71 334.49 151.41 334.81 C150.11 335.14 148.80 335.46 147.50 335.78 C146.19 336.10 144.89 336.41 143.58 336.72 C142.27 337.03 140.97 337.34 139.66 337.65 C138.35 337.95 137.04 338.25 135.73 338.55 C134.42 338.85 133.11 339.15 131.80 339.44 C130.49 339.73 129.18 340.02 127.87 340.31 C126.56 340.60 125.25 340.88 123.94 341.16 C122.63 341.44 121.31 341.72 120.00 342.00 C118.69 342.27 117.38 342.54 116.06 342.81 C114.75 343.09 113.44 343.35 112.13 343.62 C110.81 343.88 109.50 344.15 108.19 344.41 C106.88 344.67 105.56 344.93 104.25 345.18 C102.94 345.44 101.63 345.69 100.32 345.94 C99.00 346.19 97.69 346.44 96.38 346.69 C95.07 346.94 93.76 347.18 92.45 347.43 C91.14 347.67 89.83 347.91 88.52 348.15 C87.21 348.39 85.90 348.63 84.59 348.87 C83.29 349.10 81.98 349.34 80.67 349.57 C79.36 349.80 78.06 350.03 76.75 350.26 C75.45 350.49 74.14 350.72 72.84 350.95 C71.54 351.17 70.23 351.40 68.93 351.62 C67.63 351.85 66.33 352.07 65.03 352.29 C63.73 352.51 62.43 352.73 61.14 352.95 C59.84 353.17 58.54 353.39 57.25 353.61 C55.96 353.82 54.66 354.04 53.37 354.26 C52.08 354.47 50.15 354.79 49.50 354.90 Z" fill="#1e9f79" fill-opacity="0.24"/>
<path d="M49.50 235.20 C50.16 235.18 52.16 235.12 53.49 235.08 C54.82 235.05 56.14 235.01 57.47 234.97 C58.80 234.94 60.13 234.90 61.46 234.87 C62.79 234.83 64.12 234.80 65.45 234.76 C66.78 234.73 68.11 234.70 69.44 234.66 C70.77 234.63 72.10 234.60 73.43 234.57 C74.76 234.54 76.09 234.51 77.43 234.48 C78.76 234.45 80.09 234.42 81.42 234.39 C82.75 234.36 84.08 234.33 85.41 234.30 C86.75 234.28 88.08 234.25 89.41 234.22 C90.74 234.20 92.07 234.17 93.41 234.15 C94.74 234.12 96.07 234.10 97.40 234.07 C98.73 234.05 100.07 234.03 101.40 234.00 C102.73 233.98 104.07 233.96 105.40 233.94 C106.73 233.92 108.06 233.89 109.40 233.87 C110.73 233.85 112.06 233.83 113.40 233.81 C114.73 233.79 116.06 233.78 117.40 233.76 C118.73 233.74 120.07 233.72 121.40 233.70 C122.73 233.69 124.07 233.67 125.40 233.65 C126.73 233.64 128.07 233.62 129.40 233.61 C130.74 233.59 132.07 233.58 133.41 233.56 C134.74 233.55 136.07 233.53 137.41 233.52 C138.74 233.51 140.08 233.49 141.41 233.48 C142.75 233.47 144.08 233.45 145.42 233.44 C146.75 233.43 148.09 233.42 149.42 233.41 C150.76 233.40 152.09 233.39 153.43 233.38 C154.76 233.37 156.10 233.36 157.43 233.35 C158.77 233.34 160.10 233.33 161.44 233.32 C162.77 233.31 164.11 233.31 165.44 233.30 C166.78 233.29 168.11 233.28 169.45 233.28 C170.78 233.27 172.12 233.26 173.45 233.26 C174.79 233.25 176.12 233.24 177.46 233.24 C178.79 233.23 180.13 233.23 181.47 233.22 C182.80 233.22 184.14 233.21 185.47 233.21 C186.81 233.20 188.14 233.20 189.48 233.20 C190.81 233.19 192.15 233.19 193.48 233.19 C194.82 233.18 196.16 233.18 197.49 233.18 C198.83 233.18 200.16 233.17 201.50 233.17 C202.83 233.17 204.17 233.17 205.50 233.17 C206.84 233.17 208.17 233.16 209.51 233.16 C210.84 233.16 212.18 233.16 213.52 233.16 C214.85 233.16 216.19 233.16 217.52 233.16 C218.86 233.16 220.19 233.16 221.53 233.16 C222.86 233.16 224.20 233.16 225.53 233.16 C226.87 233.16 228.20 233.17 229.54 233.17 C230.87 233.17 232.21 233.17 233.54 233.17 C234.88 233.17 236.21 233.18 237.54 233.18 C238.88 233.18 240.21 233.18 241.55 233.18 C242.88 233.19 244.22 233.19 245.55 233.19 C246.89 233.19 248.22 233.20 249.55 233.20 C250.89 233.20 252.22 233.21 253.56 233.21 C254.89 233.21 256.22 233.21 257.56 233.22 C258.89 233.22 260.23 233.22 261.56 233.23 C262.89 233.23 264.23 233.24 265.56 233.24 C266.89 233.24 268.23 233.25 269.56 233.25 C270.89 233.25 272.23 233.26 273.56 233.26 C274.89 233.27 276.23 233.27 277.56 233.27 C278.89 233.28 280.22 233.28 281.56 233.29 C282.89 233.29 284.22 233.30 285.55 233.30 C286.89 233.31 288.22 233.32 289.55 233.33 C290.88 233.33 292.21 233.34 293.54 233.35 C294.88 233.36 296.21 233.37 297.54 233.39 C298.87 233.40 300.20 233.42 301.53 233.43 C302.86 233.45 304.19 233.47 305.53 233.49 C306.86 233.51 308.19 233.53 309.52 233.56 C310.85 233.58 312.18 233.61 313.51 233.64 C314.84 233.67 316.17 233.70 317.50 233.74 C318.83 233.78 320.16 233.82 321.49 233.86 C322.81 233.90 324.14 233.95 325.47 234.00 C326.80 234.05 328.13 234.10 329.46 234.16 C330.79 234.21 332.12 234.27 333.44 234.34 C334.77 234.40 336.10 234.47 337.43 234.54 C338.76 234.62 340.08 234.70 341.41 234.78 C342.74 234.86 344.07 234.95 345.39 235.04 C346.72 235.13 348.05 235.23 349.37 235.33 C350.70 235.43 352.02 235.54 353.35 235.65 C354.68 235.77 356.00 235.88 357.33 236.01 C358.65 236.13 359.98 236.26 361.30 236.40 C362.63 236.54 363.95 236.68 365.28 236.83 C366.60 236.98 367.93 237.13 369.25 237.29 C370.58 237.45 371.90 237.62 373.22 237.80 C374.55 237.97 375.87 238.15 377.19 238.34 C378.52 238.53 379.84 238.73 381.16 238.93 C382.48 239.14 383.81 239.35 385.13 239.57 C386.45 239.79 387.77 240.02 389.09 240.25 C390.41 240.49 391.73 240.73 393.05 240.98 C394.37 241.23 395.69 241.49 397.01 241.75 C398.32 242.02 399.64 242.30 400.95 242.58 C402.27 242.86 403.58 243.15 404.89 243.45 C406.20 243.75 407.51 244.06 408.81 244.37 C410.12 244.69 411.42 245.01 412.72 245.34 C414.02 245.67 415.32 246.01 416.61 246.36 C417.91 246.71 419.20 247.07 420.49 247.43 C421.78 247.80 423.06 248.17 424.34 248.55 C425.62 248.93 426.90 249.32 428.17 249.72 C429.44 250.12 430.71 250.53 431.97 250.95 C433.24 251.36 434.49 251.79 435.75 252.22 C437.00 252.66 438.25 253.10 439.49 253.55 C440.74 254.00 441.98 254.46 443.21 254.93 C444.44 255.40 445.67 255.88 446.89 256.36 C448.11 256.85 449.33 257.35 450.53 257.85 C451.74 258.36 452.95 258.87 454.15 259.39 C455.35 259.92 456.54 260.45 457.73 260.99 C458.92 261.53 460.11 262.08 461.29 262.64 C462.47 263.20 463.65 263.77 464.83 264.35 C466.01 264.93 467.18 265.51 468.36 266.11 C469.53 266.71 470.71 267.31 471.88 267.93 C473.05 268.55 474.22 269.17 475.39 269.81 C476.56 270.44 477.73 271.08 478.91 271.73 C480.08 272.38 481.25 273.04 482.42 273.70 C483.59 274.36 484.76 275.02 485.93 275.69 C487.11 276.36 488.28 277.04 489.45 277.71 C490.63 278.38 491.80 279.06 492.98 279.74 C494.15 280.41 495.33 281.09 496.51 281.77 C497.68 282.44 498.86 283.11 500.04 283.78 C501.23 284.45 502.41 285.12 503.59 285.78 C504.78 286.44 505.96 287.10 507.15 287.75 C508.34 288.40 509.53 289.05 510.73 289.68 C511.92 290.32 513.12 290.95 514.31 291.56 C515.51 292.18 516.71 292.79 517.92 293.38 C519.12 293.98 520.33 294.56 521.54 295.14 C522.75 295.71 523.97 296.27 525.18 296.81 C526.40 297.35 527.62 297.88 528.85 298.39 C530.07 298.90 531.30 299.40 532.53 299.88 C533.77 300.35 535.00 300.81 536.25 301.25 C537.49 301.69 538.73 302.11 539.98 302.51 C541.23 302.91 542.49 303.29 543.75 303.65 C545.01 304.01 546.27 304.35 547.54 304.67 C548.81 305.00 550.08 305.31 551.35 305.61 C552.63 305.90 553.91 306.18 555.19 306.45 C556.48 306.72 557.77 306.98 559.06 307.22 C560.35 307.47 561.65 307.70 562.95 307.93 C564.24 308.16 565.55 308.37 566.85 308.59 C568.16 308.80 569.47 309.00 570.78 309.20 C572.10 309.40 573.41 309.60 574.73 309.79 C576.05 309.98 577.38 310.17 578.70 310.36 C580.03 310.55 581.36 310.73 582.69 310.92 C584.02 311.11 585.36 311.29 586.70 311.49 C588.04 311.68 589.38 311.87 590.72 312.07 C592.07 312.27 593.41 312.47 594.76 312.68 C596.11 312.89 597.46 313.11 598.82 313.33 C600.17 313.56 601.53 313.79 602.88 314.03 C604.24 314.26 605.60 314.51 606.96 314.75 C608.31 314.98 609.67 315.22 611.02 315.45 C612.37 315.68 613.72 315.91 615.07 316.11 C616.41 316.32 617.75 316.52 619.08 316.70 C620.42 316.88 621.74 317.05 623.06 317.18 C624.37 317.32 625.68 317.44 626.98 317.53 C628.28 317.61 629.57 317.68 630.84 317.70 C632.11 317.73 633.38 317.72 634.62 317.67 C635.87 317.62 637.11 317.56 638.32 317.40 C639.52 317.23 640.72 317.03 641.87 316.67 C643.02 316.31 644.15 315.82 645.22 315.22 C646.30 314.62 647.33 313.88 648.30 313.06 C649.27 312.25 650.19 311.32 651.05 310.33 C651.91 309.34 652.71 308.26 653.46 307.14 C654.21 306.01 654.91 304.81 655.57 303.57 C656.22 302.34 656.83 301.05 657.39 299.74 C657.96 298.43 658.48 297.08 658.97 295.73 C659.45 294.37 659.90 292.99 660.31 291.63 C660.72 290.27 661.10 288.90 661.45 287.55 C661.80 286.21 662.12 284.88 662.41 283.58 C662.71 282.27 662.97 280.98 663.22 279.71 C663.47 278.43 663.70 277.17 663.91 275.91 C664.12 274.65 664.31 273.41 664.50 272.15 C664.68 270.90 664.85 269.66 665.01 268.40 C665.17 267.14 665.32 265.88 665.47 264.61 C665.62 263.33 665.77 262.04 665.91 260.74 C666.06 259.44 666.20 258.12 666.35 256.79 C666.50 255.46 666.65 254.12 666.81 252.77 C666.97 251.42 667.13 250.06 667.30 248.70 C667.47 247.34 667.65 245.98 667.84 244.61 C668.03 243.25 668.23 241.88 668.44 240.51 C668.66 239.15 668.88 237.79 669.12 236.44 C669.37 235.08 669.63 233.73 669.90 232.40 C670.18 231.06 670.48 229.73 670.80 228.42 C671.11 227.11 671.45 225.81 671.82 224.53 C672.18 223.25 672.56 221.98 672.98 220.74 C673.39 219.50 673.83 218.28 674.30 217.08 C674.77 215.89 675.26 214.72 675.81 213.58 C676.35 212.43 676.91 211.32 677.57 210.24 C678.23 209.16 679.35 207.67 679.76 207.10 C680.16 206.52 679.96 206.85 680.00 206.80" fill="none" stroke="#e6392f" stroke-width="1.9" stroke-linejoin="round"/>
<path d="M49.50 261.10 C50.16 261.04 52.13 260.87 53.44 260.75 C54.76 260.63 56.07 260.51 57.39 260.39 C58.70 260.26 60.02 260.14 61.34 260.00 C62.65 259.87 63.97 259.74 65.29 259.60 C66.61 259.46 67.92 259.32 69.24 259.18 C70.56 259.03 71.88 258.89 73.20 258.74 C74.52 258.59 75.84 258.43 77.16 258.28 C78.47 258.12 79.79 257.96 81.11 257.79 C82.43 257.63 83.75 257.46 85.07 257.29 C86.39 257.12 87.71 256.95 89.03 256.77 C90.35 256.60 91.67 256.42 92.99 256.23 C94.31 256.05 95.63 255.86 96.95 255.67 C98.28 255.48 99.60 255.29 100.92 255.09 C102.24 254.89 103.56 254.69 104.87 254.49 C106.19 254.28 107.51 254.07 108.83 253.86 C110.15 253.65 111.47 253.44 112.79 253.22 C114.11 253.00 115.43 252.78 116.75 252.55 C118.06 252.33 119.38 252.10 120.70 251.87 C122.02 251.64 123.33 251.40 124.65 251.16 C125.97 250.92 127.28 250.68 128.60 250.43 C129.91 250.18 131.23 249.93 132.54 249.68 C133.86 249.43 135.17 249.17 136.49 248.91 C137.80 248.65 139.11 248.38 140.43 248.11 C141.74 247.84 143.05 247.57 144.36 247.29 C145.67 247.02 146.98 246.74 148.29 246.46 C149.60 246.17 150.91 245.88 152.22 245.59 C153.52 245.30 154.83 245.01 156.14 244.71 C157.44 244.41 158.75 244.11 160.05 243.80 C161.35 243.49 162.66 243.18 163.96 242.87 C165.26 242.56 166.56 242.24 167.86 241.92 C169.16 241.59 170.46 241.27 171.76 240.94 C173.06 240.61 174.36 240.28 175.65 239.94 C176.95 239.60 178.24 239.26 179.53 238.92 C180.83 238.57 182.12 238.22 183.41 237.87 C184.70 237.51 185.99 237.16 187.28 236.80 C188.57 236.43 189.85 236.07 191.14 235.70 C192.42 235.33 193.71 234.96 194.99 234.58 C196.27 234.20 197.55 233.82 198.83 233.44 C200.11 233.05 201.39 232.66 202.67 232.27 C203.94 231.87 205.22 231.47 206.49 231.07 C207.77 230.67 209.04 230.26 210.31 229.85 C211.58 229.44 212.85 229.03 214.11 228.61 C215.38 228.19 216.64 227.77 217.91 227.34 C219.17 226.91 220.43 226.48 221.69 226.05 C222.95 225.61 224.21 225.17 225.47 224.73 C226.72 224.28 227.97 223.83 229.23 223.38 C230.48 222.93 231.73 222.47 232.98 222.01 C234.22 221.55 235.47 221.08 236.71 220.61 C237.96 220.14 239.20 219.67 240.44 219.19 C241.68 218.71 242.92 218.23 244.15 217.74 C245.39 217.25 246.62 216.76 247.85 216.26 C249.08 215.77 250.31 215.27 251.54 214.76 C252.77 214.26 253.99 213.75 255.21 213.23 C256.44 212.72 257.65 212.20 258.87 211.68 C260.09 211.15 261.30 210.62 262.52 210.09 C263.73 209.56 264.94 209.02 266.15 208.48 C267.35 207.94 268.56 207.39 269.76 206.84 C270.96 206.29 272.16 205.74 273.36 205.18 C274.56 204.62 275.75 204.05 276.95 203.48 C278.14 202.91 279.33 202.34 280.51 201.76 C281.70 201.19 282.89 200.61 284.07 200.02 C285.26 199.44 286.44 198.85 287.62 198.26 C288.81 197.67 289.99 197.08 291.17 196.49 C292.35 195.90 293.53 195.30 294.71 194.71 C295.89 194.11 297.07 193.52 298.26 192.92 C299.44 192.32 300.62 191.73 301.81 191.13 C302.99 190.53 304.17 189.94 305.36 189.34 C306.55 188.75 307.74 188.15 308.93 187.56 C310.12 186.97 311.31 186.38 312.51 185.79 C313.71 185.20 314.91 184.62 316.11 184.04 C317.31 183.45 318.52 182.87 319.73 182.30 C320.94 181.72 322.15 181.15 323.37 180.59 C324.59 180.02 325.81 179.46 327.04 178.90 C328.27 178.34 329.50 177.79 330.74 177.25 C331.98 176.71 333.22 176.18 334.47 175.66 C335.72 175.14 336.98 174.63 338.24 174.14 C339.50 173.65 340.77 173.17 342.05 172.72 C343.32 172.26 344.61 171.82 345.90 171.40 C347.19 170.98 348.49 170.58 349.79 170.21 C351.10 169.84 352.42 169.49 353.74 169.17 C355.06 168.85 356.40 168.55 357.74 168.28 C359.07 168.02 360.42 167.78 361.78 167.58 C363.13 167.37 364.49 167.19 365.85 167.05 C367.21 166.90 368.57 166.79 369.93 166.71 C371.29 166.62 372.66 166.57 374.01 166.56 C375.37 166.54 376.73 166.55 378.08 166.60 C379.42 166.65 380.77 166.73 382.10 166.85 C383.43 166.97 384.76 167.12 386.07 167.31 C387.38 167.50 388.69 167.72 389.97 167.98 C391.26 168.24 392.53 168.54 393.79 168.87 C395.04 169.21 396.28 169.58 397.51 169.99 C398.73 170.39 399.94 170.84 401.13 171.31 C402.32 171.78 403.50 172.29 404.67 172.83 C405.83 173.36 406.98 173.93 408.12 174.53 C409.26 175.13 410.38 175.75 411.49 176.40 C412.61 177.06 413.71 177.73 414.80 178.44 C415.89 179.14 416.97 179.87 418.04 180.61 C419.11 181.36 420.17 182.13 421.22 182.92 C422.27 183.71 423.31 184.53 424.34 185.35 C425.37 186.18 426.40 187.03 427.42 187.89 C428.43 188.75 429.44 189.63 430.45 190.52 C431.45 191.41 432.45 192.31 433.44 193.23 C434.43 194.14 435.42 195.07 436.40 196.01 C437.39 196.94 438.36 197.89 439.34 198.84 C440.31 199.79 441.28 200.75 442.25 201.72 C443.22 202.68 444.19 203.65 445.15 204.62 C446.12 205.60 447.08 206.57 448.04 207.55 C449.00 208.52 449.96 209.50 450.93 210.47 C451.89 211.45 452.85 212.42 453.81 213.39 C454.78 214.36 455.74 215.33 456.71 216.28 C457.67 217.24 458.64 218.20 459.61 219.14 C460.59 220.09 461.56 221.03 462.54 221.96 C463.52 222.88 464.50 223.80 465.49 224.71 C466.48 225.61 467.47 226.51 468.47 227.39 C469.46 228.27 470.47 229.14 471.47 230.00 C472.48 230.86 473.49 231.71 474.51 232.55 C475.53 233.39 476.55 234.22 477.57 235.03 C478.60 235.85 479.63 236.66 480.66 237.47 C481.70 238.27 482.74 239.06 483.78 239.85 C484.83 240.63 485.88 241.41 486.93 242.18 C487.98 242.95 489.04 243.71 490.10 244.47 C491.16 245.23 492.23 245.98 493.30 246.73 C494.37 247.47 495.44 248.21 496.52 248.95 C497.60 249.68 498.68 250.42 499.77 251.14 C500.85 251.87 501.94 252.59 503.04 253.31 C504.13 254.03 505.23 254.75 506.33 255.46 C507.43 256.18 508.54 256.89 509.65 257.60 C510.76 258.31 511.87 259.02 512.99 259.73 C514.11 260.44 515.23 261.14 516.35 261.85 C517.47 262.56 518.60 263.26 519.72 263.97 C520.85 264.68 521.98 265.38 523.12 266.09 C524.25 266.80 525.38 267.51 526.52 268.23 C527.65 268.94 528.79 269.65 529.93 270.37 C531.06 271.09 532.20 271.81 533.34 272.54 C534.48 273.26 535.62 273.99 536.76 274.72 C537.90 275.45 539.04 276.19 540.18 276.93 C541.32 277.68 542.45 278.42 543.59 279.18 C544.73 279.93 545.86 280.69 547.00 281.46 C548.13 282.22 549.27 283.00 550.40 283.77 C551.53 284.55 552.65 285.35 553.78 286.13 C554.91 286.92 556.04 287.71 557.17 288.47 C558.30 289.23 559.43 289.99 560.57 290.69 C561.71 291.40 562.86 292.08 564.01 292.70 C565.17 293.32 566.33 293.90 567.50 294.40 C568.68 294.89 569.86 295.34 571.06 295.69 C572.26 296.04 573.48 296.32 574.71 296.48 C575.94 296.64 577.19 296.72 578.46 296.67 C579.73 296.62 581.03 296.44 582.34 296.19 C583.64 295.94 584.98 295.56 586.31 295.16 C587.64 294.77 588.99 294.28 590.34 293.81 C591.69 293.35 593.05 292.83 594.40 292.38 C595.74 291.93 597.10 291.46 598.43 291.09 C599.77 290.73 601.10 290.39 602.41 290.18 C603.72 289.98 605.02 289.86 606.29 289.88 C607.57 289.89 608.82 290.03 610.04 290.26 C611.26 290.50 612.46 290.85 613.61 291.29 C614.76 291.72 615.88 292.26 616.96 292.88 C618.04 293.49 619.08 294.20 620.09 294.98 C621.09 295.75 622.06 296.61 623.00 297.52 C623.93 298.43 624.83 299.42 625.70 300.45 C626.57 301.47 627.41 302.56 628.23 303.67 C629.06 304.78 629.86 305.93 630.66 307.09 C631.46 308.25 632.24 309.43 633.03 310.61 C633.82 311.78 634.60 312.96 635.41 314.12 C636.21 315.27 637.02 316.42 637.86 317.52 C638.69 318.62 639.54 319.70 640.43 320.72 C641.32 321.73 642.23 322.72 643.20 323.61 C644.16 324.50 645.18 325.41 646.21 326.09 C647.24 326.76 648.34 327.44 649.37 327.64 C650.40 327.84 651.44 327.74 652.37 327.29 C653.29 326.84 654.14 325.91 654.90 324.93 C655.67 323.95 656.34 322.63 656.96 321.39 C657.57 320.16 658.11 318.84 658.61 317.53 C659.12 316.22 659.55 314.87 659.97 313.53 C660.38 312.19 660.75 310.84 661.10 309.50 C661.46 308.16 661.78 306.82 662.09 305.49 C662.40 304.17 662.68 302.84 662.96 301.52 C663.23 300.21 663.48 298.89 663.72 297.58 C663.95 296.27 664.17 294.97 664.39 293.66 C664.60 292.36 664.80 291.06 664.99 289.76 C665.18 288.45 665.36 287.16 665.53 285.86 C665.71 284.56 665.87 283.26 666.04 281.96 C666.20 280.66 666.36 279.36 666.52 278.05 C666.68 276.75 666.84 275.44 667.00 274.13 C667.16 272.82 667.32 271.51 667.49 270.20 C667.66 268.88 667.83 267.56 668.01 266.23 C668.19 264.91 668.38 263.57 668.57 262.24 C668.76 260.91 668.95 259.57 669.15 258.23 C669.34 256.89 669.55 255.55 669.75 254.21 C669.95 252.87 670.15 251.52 670.36 250.18 C670.56 248.84 670.77 247.50 670.97 246.16 C671.17 244.82 671.38 243.48 671.58 242.14 C671.78 240.81 671.98 239.47 672.17 238.15 C672.36 236.82 672.56 235.49 672.74 234.18 C672.93 232.86 673.11 231.54 673.28 230.24 C673.46 228.93 673.62 227.63 673.79 226.34 C673.96 225.05 674.10 223.76 674.29 222.49 C674.49 221.21 674.68 219.95 674.95 218.69 C675.22 217.44 675.52 216.19 675.93 214.96 C676.33 213.72 676.80 212.50 677.40 211.29 C678.00 210.08 679.06 208.46 679.53 207.71 C679.99 206.96 680.09 206.95 680.20 206.80" fill="none" stroke="#1e9f79" stroke-width="1.9" stroke-linejoin="round"/>
<rect x="370" y="27" width="286" height="46" fill="#fff"/>
<path d="M603.6 39.95H649.2" stroke="#e6392f" stroke-width="1.9"/>
<path d="M603.6 62.7H649.2" stroke="#1e9f79" stroke-width="1.9"/>
<path d="M88.05 394.75 v-5.50 M88.05 21.50 v5.50 M110.86 394.75 v-5.50 M110.86 21.50 v5.50 M127.04 394.75 v-5.50 M127.04 21.50 v5.50 M139.59 394.75 v-5.50 M139.59 21.50 v5.50 M149.84 394.75 v-5.50 M149.84 21.50 v5.50 M158.51 394.75 v-5.50 M158.51 21.50 v5.50 M166.02 394.75 v-5.50 M166.02 21.50 v5.50 M172.64 394.75 v-5.50 M172.64 21.50 v5.50 M178.57 394.75 v-11.00 M178.57 21.50 v11.00 M217.55 394.75 v-5.50 M217.55 21.50 v5.50 M240.36 394.75 v-5.50 M240.36 21.50 v5.50 M256.54 394.75 v-5.50 M256.54 21.50 v5.50 M269.09 394.75 v-5.50 M269.09 21.50 v5.50 M279.34 394.75 v-5.50 M279.34 21.50 v5.50 M288.01 394.75 v-5.50 M288.01 21.50 v5.50 M295.52 394.75 v-5.50 M295.52 21.50 v5.50 M302.14 394.75 v-5.50 M302.14 21.50 v5.50 M308.07 394.75 v-11.00 M308.07 21.50 v11.00 M347.05 394.75 v-5.50 M347.05 21.50 v5.50 M369.86 394.75 v-5.50 M369.86 21.50 v5.50 M386.04 394.75 v-5.50 M386.04 21.50 v5.50 M398.59 394.75 v-5.50 M398.59 21.50 v5.50 M408.84 394.75 v-5.50 M408.84 21.50 v5.50 M417.51 394.75 v-5.50 M417.51 21.50 v5.50 M425.02 394.75 v-5.50 M425.02 21.50 v5.50 M431.64 394.75 v-5.50 M431.64 21.50 v5.50 M437.57 394.75 v-11.00 M437.57 21.50 v11.00 M476.55 394.75 v-5.50 M476.55 21.50 v5.50 M499.36 394.75 v-5.50 M499.36 21.50 v5.50 M515.54 394.75 v-5.50 M515.54 21.50 v5.50 M528.09 394.75 v-5.50 M528.09 21.50 v5.50 M538.34 394.75 v-5.50 M538.34 21.50 v5.50 M547.01 394.75 v-5.50 M547.01 21.50 v5.50 M554.52 394.75 v-5.50 M554.52 21.50 v5.50 M561.14 394.75 v-5.50 M561.14 21.50 v5.50 M567.07 394.75 v-11.00 M567.07 21.50 v11.00 M606.05 394.75 v-5.50 M606.05 21.50 v5.50 M628.86 394.75 v-5.50 M628.86 21.50 v5.50 M645.04 394.75 v-5.50 M645.04 21.50 v5.50 M657.59 394.75 v-5.50 M657.59 21.50 v5.50 M667.84 394.75 v-5.50 M667.84 21.50 v5.50 M676.51 394.75 v-5.50 M676.51 21.50 v5.50 M684.02 394.75 v-5.50 M684.02 21.50 v5.50 M49.50 377.45 h11.00 M684.50 377.45 h-11.00 M49.50 332.96 h11.00 M684.50 332.96 h-11.00 M49.50 288.46 h11.00 M684.50 288.46 h-11.00 M49.50 243.97 h11.00 M684.50 243.97 h-11.00 M49.50 199.48 h11.00 M684.50 199.48 h-11.00 M49.50 154.99 h11.00 M684.50 154.99 h-11.00 M49.50 110.50 h11.00 M684.50 110.50 h-11.00 M49.50 66.00 h11.00 M684.50 66.00 h-11.00" stroke="#383838" stroke-width="1" fill="none"/>
<rect x="49.50" y="21.50" width="635.00" height="373.25" fill="none" stroke="#383838" stroke-width="1"/>
</svg>
<div class="t" style="top:4px;font-size:16.90px;left:47.90px;transform-origin:50% 76.92%;transform:scaleY(1.040);">R<span class="sub" style="top:3.00px;margin-left:0.00px">s</span> (NNLO) PDF at Q<span class="sup" style="top:-6.00px;margin-left:0.50px">2</span> = 1.9 GeV<span class="sup" style="top:-6.00px;margin-left:0.50px">2</span></div>
<div class="t" style="top:371px;font-size:15.00px;right:646.90px;transform-origin:50% 80.00%;transform:scaleY(1.040);">0.000</div>
<div class="t" style="top:327px;font-size:15.00px;right:646.90px;transform-origin:50% 80.00%;transform:scaleY(1.040);">0.250</div>
<div class="t" style="top:282px;font-size:15.00px;right:646.90px;transform-origin:50% 80.00%;transform:scaleY(1.040);">0.500</div>
<div class="t" style="top:238px;font-size:15.00px;right:646.90px;transform-origin:50% 80.00%;transform:scaleY(1.040);">0.750</div>
<div class="t" style="top:193px;font-size:15.00px;right:646.90px;transform-origin:50% 80.00%;transform:scaleY(1.040);">1.000</div>
<div class="t" style="top:149px;font-size:15.00px;right:646.90px;transform-origin:50% 80.00%;transform:scaleY(1.040);">1.250</div>
<div class="t" style="top:104px;font-size:15.00px;right:646.90px;transform-origin:50% 80.00%;transform:scaleY(1.040);">1.500</div>
<div class="t" style="top:60px;font-size:15.00px;right:646.90px;transform-origin:50% 80.00%;transform:scaleY(1.040);">1.750</div>
<div class="t" style="top:15px;font-size:15.00px;right:646.90px;transform-origin:50% 80.00%;transform:scaleY(1.040);">2.000</div>
<div class="t" style="top:415px;font-size:18.67px;left:49.47px;transform-origin:50% 80.34%;transform:translateX(-50%) scaleY(1.040);">10<span class="sup" style="top:-8.00px;margin-left:0.40px">-5</span></div>
<div class="t" style="top:415px;font-size:18.67px;left:178.97px;transform-origin:50% 80.34%;transform:translateX(-50%) scaleY(1.040);">10<span class="sup" style="top:-8.00px;margin-left:0.40px">-4</span></div>
<div class="t" style="top:415px;font-size:18.67px;left:308.47px;transform-origin:50% 80.34%;transform:translateX(-50%) scaleY(1.040);">10<span class="sup" style="top:-8.00px;margin-left:0.40px">-3</span></div>
<div class="t" style="top:415px;font-size:18.67px;left:437.97px;transform-origin:50% 80.34%;transform:translateX(-50%) scaleY(1.040);">10<span class="sup" style="top:-8.00px;margin-left:0.40px">-2</span></div>
<div class="t" style="top:415px;font-size:18.67px;left:567.47px;transform-origin:50% 80.34%;transform:translateX(-50%) scaleY(1.040);">10<span class="sup" style="top:-8.00px;margin-left:0.40px">-1</span></div>
<div class="t" style="top:428px;font-size:17.30px;left:362.60px;transform-origin:50% 80.92%;transform:scaleY(1.040);">x</div>
<div class="t" style="top:363px;font-size:18.67px;left:516.70px;transform-origin:50% 80.34%;transform:scaleY(1.040);">Q<span class="sup" style="top:-6.00px;margin-left:0.90px">2</span> = 1.9 GeV<span class="sup" style="top:-6.00px;margin-left:0.90px">2</span></div>
<div class="t" style="top:33px;font-size:15.10px;right:90.00px;transform-origin:50% 79.47%;transform:scaleY(1.040);letter-spacing:0.03px;">MMHT14 NNLO α<span class="sub" style="top:3.00px;margin-left:0.50px">s</span> (m<span class="sub" style="top:3.00px;margin-left:0.00px">Z</span><span class="sup" style="top:-5.00px;margin-left:0.00px">2</span>) = 0.118</div>
<div class="t" style="top:56px;font-size:15.10px;right:90.00px;transform-origin:50% 79.47%;transform:scaleY(1.040);letter-spacing:0.03px;">MSHT20 NNLO α<span class="sub" style="top:3.00px;margin-left:0.50px">s</span> (m<span class="sub" style="top:3.00px;margin-left:0.00px">Z</span><span class="sup" style="top:-5.00px;margin-left:0.00px">2</span>) = 0.118</div>
</div></body></html>
